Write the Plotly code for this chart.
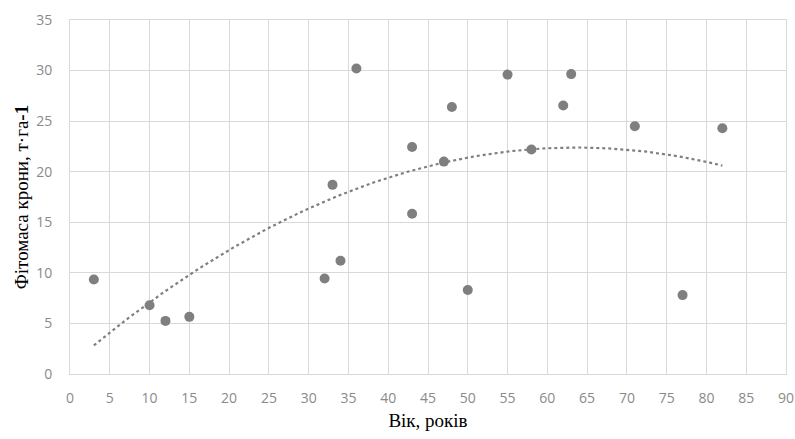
import numpy as np
import plotly.graph_objects as go

age = [3, 10, 12, 15, 32, 33, 34, 36, 43, 43, 47, 48, 50, 55, 58, 62, 63, 71, 77, 82]
biomass = [9.35, 6.8, 5.25, 5.65, 9.45, 18.7, 11.2, 30.2, 22.45, 15.85, 21.0, 26.4, 8.3, 29.6, 22.2, 26.55, 29.65, 24.5, 7.8, 24.3]

x_ticks = list(range(0, 91, 5))
y_ticks = list(range(0, 36, 5))

# order-2 polynomial trendline (as in the spreadsheet chart)
coef = np.polyfit(age, biomass, 2)
xt = np.linspace(min(age), max(age), 200)
yt = np.polyval(coef, xt)

fig = go.Figure()
fig.add_trace(go.Scatter(x=xt, y=yt, mode="lines",
                         line=dict(color="#7f7f7f", width=2.2, dash="dot"),
                         hoverinfo="skip", showlegend=False, cliponaxis=False))
fig.add_trace(go.Scatter(x=age, y=biomass, mode="markers",
                         marker=dict(color="#7f7f7f", size=10),
                         showlegend=False))

tick_font = dict(family="Open Sans", size=14, color="#8a8a8a")
fig.update_layout(
    width=795, height=439,
    margin=dict(l=70, r=9, t=20, b=65, autoexpand=False),
    paper_bgcolor="white", plot_bgcolor="white",
    font=dict(family="Open Sans", size=14, color="#8a8a8a"),
    xaxis=dict(range=[0, 90], tickvals=x_ticks, showgrid=True, gridcolor="#d9d9d9",
               gridwidth=1, zeroline=False, showline=True, linecolor="#d9d9d9",
               mirror=True, ticks="", tickfont=tick_font, automargin=False,
               ticklabelstandoff=11, ticklabeloverflow="allow",
               title=dict(text="Вік, років", font=dict(family="Liberation Serif", size=19, color="black"),
                          standoff=7)),
    yaxis=dict(range=[0, 35], tickvals=y_ticks, showgrid=True, gridcolor="#d9d9d9",
               gridwidth=1, zeroline=False, showline=True, linecolor="#d9d9d9",
               mirror=True, ticks="", ticklabelstandoff=14, tickfont=tick_font, automargin=False,
               title=dict(text="Фітомаса крони, т·га<b>-1</b>",
                          font=dict(family="Liberation Serif", size=19, color="black"),
                          standoff=2)),
)

fig.write_html("out.html", config={"displayModeBar": False},
               post_script="document.body.style.margin='0';document.body.style.overflow='hidden';")
